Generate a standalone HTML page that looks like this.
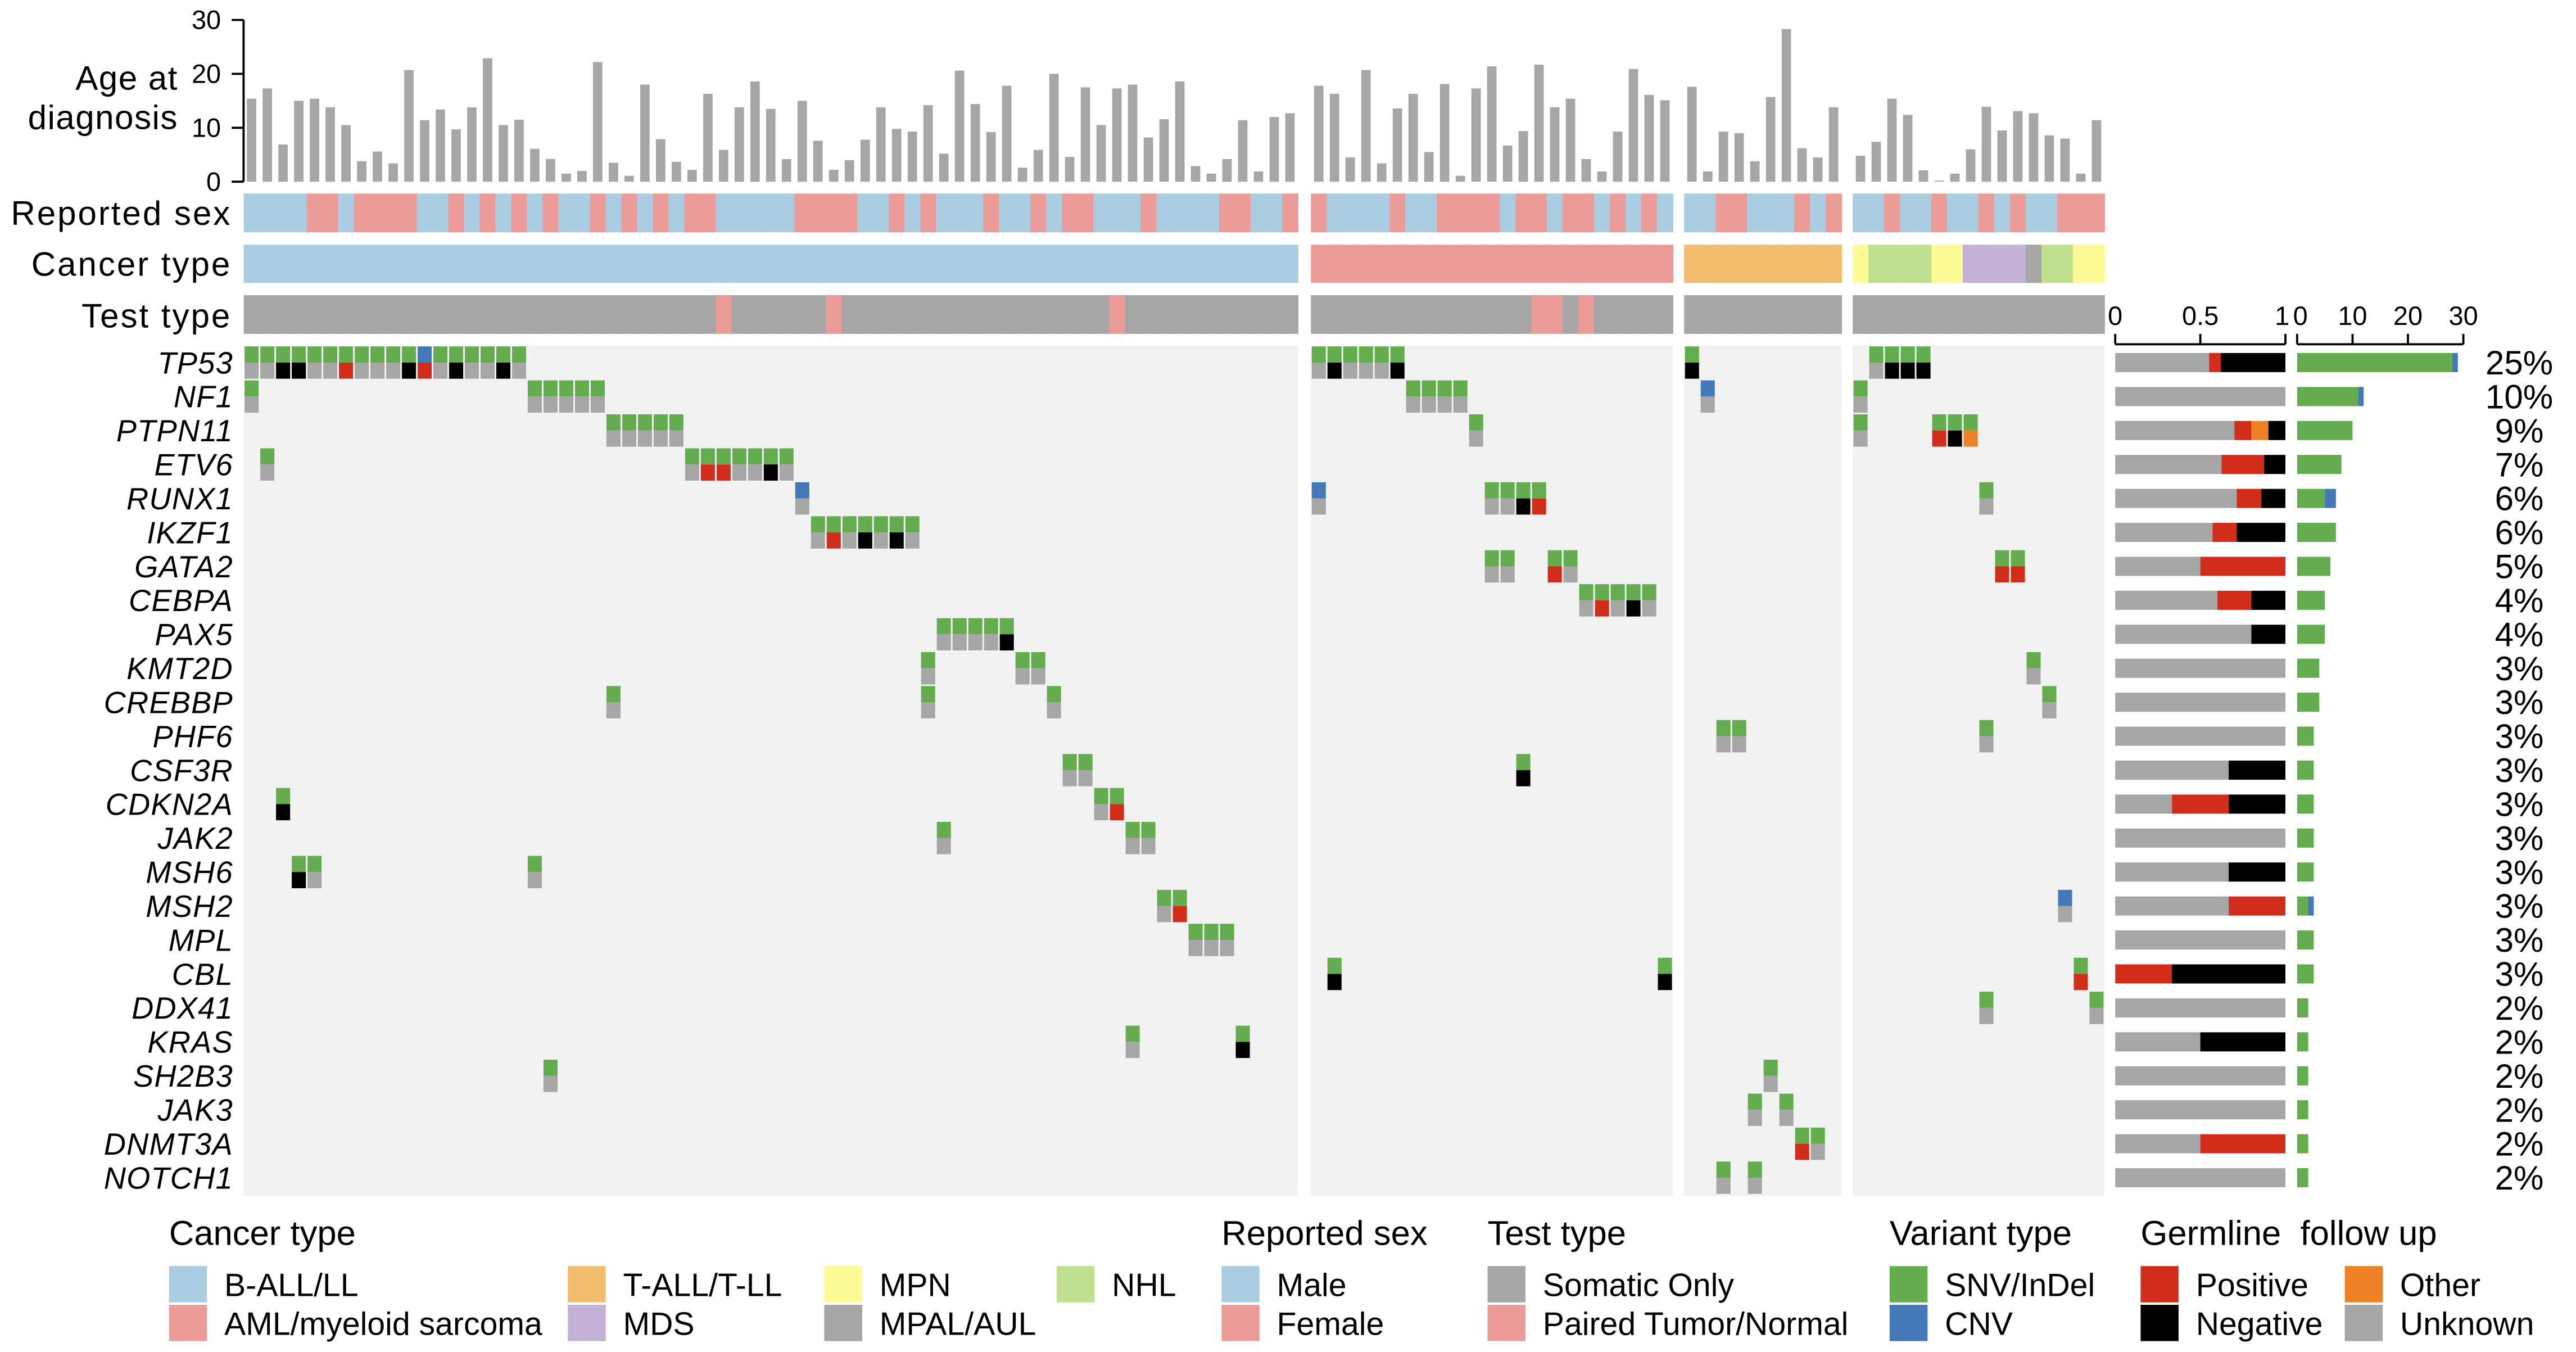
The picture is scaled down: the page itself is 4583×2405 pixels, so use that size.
<!DOCTYPE html>
<html><head><meta charset="utf-8"><title>Oncoprint</title>
<style>html,body{margin:0;padding:0;background:#fff;}svg{display:block;font-family:"Liberation Sans",Arial,sans-serif;}</style>
</head><body>
<svg id="chart" width="4583" height="2405" viewBox="0 0 1562 820" preserveAspectRatio="none" xmlns="http://www.w3.org/2000/svg"></svg>
<script>
// ---------- DATA ----------
const groupSizes = [67, 23, 10, 16];
const ages = [
 15.4,17.3,6.9,15,15.4,13.8,10.5,3.8,5.6,3.4,20.7,11.4,13.4,9.7,13.8,22.9,10.5,11.5,6.1,4.2,1.5,2,22.2,3.5,1.1,18,7.9,3.7,2.2,16.3,5.9,13.8,18.6,13.5,4.2,15,7.6,2.2,4,7.8,13.8,9.8,9.3,14.2,5.2,20.6,14.4,9.2,17.8,2.6,5.9,20,4.6,17.5,10.5,17.3,18,8.2,11.6,18.6,2.9,1.5,4.2,11.4,1.9,12,12.7,
 17.8,16.3,4.5,20.7,3.4,13.6,16.3,5.5,18.1,1.1,17.3,21.4,6.7,9.4,21.7,13.8,15.4,4.2,1.9,9.3,20.9,16.1,15.1,
 17.6,1.9,9.3,9.0,3.8,15.7,28.3,6.2,4.5,13.8,
 4.8,7.4,15.4,12.4,2.1,0.2,1.5,6.0,13.9,9.5,13.1,12.7,8.6,8.0,1.5,11.4
];
const sexes = [
 'M','M','M','M','F','F','M','F','F','F','F','M','M','F','M','F','M','F','M','F','M','M','F','M','F','M','F','M','F','F','M','M','M','M','M','F','F','F','F','M','M','F','M','F','M','M','M','F','M','M','F','M','F','F','M','M','M','F','M','M','M','M','F','F','M','M','F',
 'F','M','M','M','M','F','M','M','F','F','F','F','M','F','F','M','F','F','M','F','M','F','M',
 'M','M','F','F','M','M','M','F','M','F',
 'M','M','F','M','M','F','M','M','F','M','F','M','M','F','F','F'
];
const cancerGroups = ['B-ALL/LL','AML/myeloid sarcoma','T-ALL/T-LL'];
const cancerGroup4 = ['MPN','NHL','NHL','NHL','NHL','MPN','MPN','MDS','MDS','MDS','MDS','MPAL/AUL','NHL','NHL','MPN','MPN'];
const pairedSamples = [[1,31],[1,38],[1,56],[2,15],[2,16],[2,18]]; // [group, cell]
const genes = ['TP53','NF1','PTPN11','ETV6','RUNX1','IKZF1','GATA2','CEBPA','PAX5','KMT2D','CREBBP','PHF6','CSF3R','CDKN2A','JAK2','MSH6','MSH2','MPL','CBL','DDX41','KRAS','SH2B3','JAK3','DNMT3A','NOTCH1'];
// [gene, group, cell, variant(S=SNV/InDel,C=CNV), germline(U,P,N,O)]
const mutations = [
 ['TP53',1,1,'S','U'],['TP53',1,2,'S','U'],['TP53',1,3,'S','N'],['TP53',1,4,'S','N'],['TP53',1,5,'S','U'],['TP53',1,6,'S','U'],['TP53',1,7,'S','P'],['TP53',1,8,'S','U'],['TP53',1,9,'S','U'],['TP53',1,10,'S','U'],['TP53',1,11,'S','N'],['TP53',1,12,'C','P'],['TP53',1,13,'S','U'],['TP53',1,14,'S','N'],['TP53',1,15,'S','U'],['TP53',1,16,'S','U'],['TP53',1,17,'S','N'],['TP53',1,18,'S','U'],
 ['TP53',2,1,'S','U'],['TP53',2,2,'S','N'],['TP53',2,3,'S','U'],['TP53',2,4,'S','U'],['TP53',2,5,'S','U'],['TP53',2,6,'S','N'],
 ['TP53',3,1,'S','N'],
 ['TP53',4,2,'S','U'],['TP53',4,3,'S','N'],['TP53',4,4,'S','N'],['TP53',4,5,'S','N'],
 ['NF1',1,1,'S','U'],['NF1',1,19,'S','U'],['NF1',1,20,'S','U'],['NF1',1,21,'S','U'],['NF1',1,22,'S','U'],['NF1',1,23,'S','U'],
 ['NF1',2,7,'S','U'],['NF1',2,8,'S','U'],['NF1',2,9,'S','U'],['NF1',2,10,'S','U'],['NF1',3,2,'C','U'],['NF1',4,1,'S','U'],
 ['PTPN11',1,24,'S','U'],['PTPN11',1,25,'S','U'],['PTPN11',1,26,'S','U'],['PTPN11',1,27,'S','U'],['PTPN11',1,28,'S','U'],['PTPN11',2,11,'S','U'],
 ['PTPN11',4,1,'S','U'],['PTPN11',4,6,'S','P'],['PTPN11',4,7,'S','N'],['PTPN11',4,8,'S','O'],
 ['ETV6',1,2,'S','U'],['ETV6',1,29,'S','U'],['ETV6',1,30,'S','P'],['ETV6',1,31,'S','P'],['ETV6',1,32,'S','U'],['ETV6',1,33,'S','U'],['ETV6',1,34,'S','N'],['ETV6',1,35,'S','U'],
 ['RUNX1',1,36,'C','U'],['RUNX1',2,1,'C','U'],['RUNX1',2,12,'S','U'],['RUNX1',2,13,'S','U'],['RUNX1',2,14,'S','N'],['RUNX1',2,15,'S','P'],['RUNX1',4,9,'S','U'],
 ['IKZF1',1,37,'S','U'],['IKZF1',1,38,'S','P'],['IKZF1',1,39,'S','U'],['IKZF1',1,40,'S','N'],['IKZF1',1,41,'S','U'],['IKZF1',1,42,'S','N'],['IKZF1',1,43,'S','U'],
 ['GATA2',2,12,'S','U'],['GATA2',2,13,'S','U'],['GATA2',2,16,'S','P'],['GATA2',2,17,'S','U'],['GATA2',4,10,'S','P'],['GATA2',4,11,'S','P'],
 ['CEBPA',2,18,'S','U'],['CEBPA',2,19,'S','P'],['CEBPA',2,20,'S','U'],['CEBPA',2,21,'S','N'],['CEBPA',2,22,'S','U'],
 ['PAX5',1,45,'S','U'],['PAX5',1,46,'S','U'],['PAX5',1,47,'S','U'],['PAX5',1,48,'S','U'],['PAX5',1,49,'S','N'],
 ['KMT2D',1,44,'S','U'],['KMT2D',1,50,'S','U'],['KMT2D',1,51,'S','U'],['KMT2D',4,12,'S','U'],
 ['CREBBP',1,24,'S','U'],['CREBBP',1,44,'S','U'],['CREBBP',1,52,'S','U'],['CREBBP',4,13,'S','U'],
 ['PHF6',3,3,'S','U'],['PHF6',3,4,'S','U'],['PHF6',4,9,'S','U'],
 ['CSF3R',1,53,'S','U'],['CSF3R',1,54,'S','U'],['CSF3R',2,14,'S','N'],
 ['CDKN2A',1,3,'S','N'],['CDKN2A',1,55,'S','U'],['CDKN2A',1,56,'S','P'],
 ['JAK2',1,45,'S','U'],['JAK2',1,57,'S','U'],['JAK2',1,58,'S','U'],
 ['MSH6',1,4,'S','N'],['MSH6',1,5,'S','U'],['MSH6',1,19,'S','U'],
 ['MSH2',1,59,'S','U'],['MSH2',1,60,'S','P'],['MSH2',4,14,'C','U'],
 ['MPL',1,61,'S','U'],['MPL',1,62,'S','U'],['MPL',1,63,'S','U'],
 ['CBL',2,2,'S','N'],['CBL',2,23,'S','N'],['CBL',4,15,'S','P'],
 ['DDX41',4,9,'S','U'],['DDX41',4,16,'S','U'],
 ['KRAS',1,57,'S','U'],['KRAS',1,64,'S','N'],
 ['SH2B3',1,20,'S','U'],['SH2B3',3,6,'S','U'],
 ['JAK3',3,5,'S','U'],['JAK3',3,7,'S','U'],
 ['DNMT3A',3,8,'S','P'],['DNMT3A',3,9,'S','U'],
 ['NOTCH1',3,3,'S','U'],['NOTCH1',3,5,'S','U']
];
const ageTicks = [0,10,20,30];
const germTicks = [0,0.5,1];
const germTickLabels = ['0','0.5','1'];
const freqTicks = [0,10,20,30];

// ---------- STYLE / LAYOUT ----------
const C = {male:'#abcde2', female:'#eb9c99', 'B-ALL/LL':'#abcde2','AML/myeloid sarcoma':'#eb9c99','T-ALL/T-LL':'#f2bd6c','MPN':'#fdfb95','MDS':'#c3b1d6','MPAL/AUL':'#a6a6a6','NHL':'#bfe08f',
  somatic:'#a6a6a6', paired:'#eb9c99', S:'#63ad4e', C:'#4379b7', P:'#d12d1a', N:'#000000', O:'#ec8224', U:'#a6a6a6', bg:'#f2f2f2'};
const groupStart = [147.8, 794.9, 1021.2, 1123.4];
const colW = 9.54;
const rowTop0 = 209.6, rowH = 20.6;
const ageY0 = 110.2, ageY30 = 12.1;
const svg = document.getElementById('chart');
const NS = 'http://www.w3.org/2000/svg';
function mk(tag, attrs, parent){const e=document.createElementNS(NS,tag);for(const k in attrs)e.setAttribute(k,attrs[k]);(parent||svg).appendChild(e);return e;}
function txt(s, attrs, parent){const e=mk('text',attrs,parent);e.textContent=s;return e;}
const nTotal = groupSizes.reduce((a,b)=>a+b,0);
const sampleGroup=[], sampleCell=[];
groupSizes.forEach((n,g)=>{for(let i=0;i<n;i++){sampleGroup.push(g);sampleCell.push(i);}});
function xCol(s){return groupStart[sampleGroup[s]] + sampleCell[s]*colW;}
function xGC(g,c){return groupStart[g-1] + (c-1)*colW;}
function yAge(v){return ageY0 - (ageY0-ageY30)*v/30;}
function yRow(i){return rowTop0 + i*rowH;}
const germX0 = 1282.6, germW = 103.2;
function xGerm(f){return germX0 + germW*f;}
const freqX0 = 1392.9, freqPer = 3.36;
function xFreq(n){return freqX0 + freqPer*n;}

// ---------- AGE CHART ----------
const ageG = mk('g',{});


ages.forEach((v,s)=>{
  const r = mk('rect',{x:xCol(s)+1.9, y:yAge(v), width:5.7, height:ageY0-yAge(v), fill:'#a6a6a6'}, ageG);
  
  
});
const ageAxis = mk('g',{});


mk('line',{x1:147.7,x2:147.7,y1:yAge(30),y2:yAge(0),stroke:'#000','stroke-width':1.3},ageAxis);
ageTicks.forEach(t=>{
  mk('line',{x1:140.5,x2:147.7,y1:yAge(t),y2:yAge(t),stroke:'#000','stroke-width':1.3},ageAxis);
  const tl = txt(String(t),{x:134,y:yAge(t)+5.5,'text-anchor':'end','font-size':16},ageAxis);
  
  
});
const at1 = txt('Age at',{x:108,y:54.4,'text-anchor':'end','font-size':20.5,'letter-spacing':0.5});


const at2 = txt('diagnosis',{x:108,y:78.2,'text-anchor':'end','font-size':20.5,'letter-spacing':0.5});



// ---------- ANNOTATION ROWS ----------
[['Reported sex',136.4],['Cancer type',167.3],['Test type',198.6]].forEach(([s,y])=>{
  const t = txt(s,{x:140.5,y:y,'text-anchor':'end','font-size':20.5,'letter-spacing':1});
  
  
});
for(let s=0;s<nTotal;s++){
  const x = xCol(s);
  const r1 = mk('rect',{x:x,y:117.4,width:colW+0.3,height:23.5,fill:sexes[s]==='F'?C.female:C.male});
  
  
  const g = sampleGroup[s];
  const ct = g<3 ? cancerGroups[g] : cancerGroup4[sampleCell[s]];
  const r2 = mk('rect',{x:x,y:148.4,width:colW+0.3,height:23.2,fill:C[ct]});
  
  
  const paired = pairedSamples.some(p=>p[0]-1===g && p[1]-1===sampleCell[s]);
  const r3 = mk('rect',{x:x,y:179,width:colW+0.3,height:23.5,fill:paired?C.paired:C.somatic});
  
  
}

// ---------- MUTATION MATRIX ----------
groupSizes.forEach((n,g)=>{
  const r = mk('rect',{x:groupStart[g],y:rowTop0,width:n*colW,height:genes.length*rowH+0.8,fill:C.bg});
  
  
});
genes.forEach((gname,i)=>{
  const t = txt(gname,{x:141.4,y:yRow(i)+rowH/2+6.6,'text-anchor':'end','font-size':18.5,'font-style':'italic','letter-spacing':0.4});
  
  
});
mutations.forEach(m=>{
  const gi = genes.indexOf(m[0]);
  const x = xGC(m[1],m[2]) + 0.5, y = yRow(gi) + 0.5, w = colW-1, h = rowH-1;
  const cell = mk('g',{});
  
  
  mk('rect',{x:x,y:y,width:w,height:h/2,fill:C[m[3]]},cell);
  mk('rect',{x:x,y:y+h/2,width:w,height:h/2,fill:C[m[4]]},cell);
});

// ---------- RIGHT PANELS ----------
const germOrder = ['U','P','O','N'];
const gAx = mk('g',{});


mk('line',{x1:xGerm(0),x2:xGerm(1),y1:208.8,y2:208.8,stroke:'#000','stroke-width':1.3},gAx);
germTicks.forEach((t,i)=>{
  mk('line',{x1:xGerm(t),x2:xGerm(t),y1:202.5,y2:208.8,stroke:'#000','stroke-width':1.3},gAx);
  txt(germTickLabels[i],{x:xGerm(t)+(i===2?-2:0),y:197,'text-anchor':'middle','font-size':16},gAx);
});
const fAx = mk('g',{});


mk('line',{x1:xFreq(0),x2:xFreq(30),y1:208.8,y2:208.8,stroke:'#000','stroke-width':1.3},fAx);
freqTicks.forEach(t=>{
  mk('line',{x1:xFreq(t),x2:xFreq(t),y1:202.5,y2:208.8,stroke:'#000','stroke-width':1.3},fAx);
  txt(String(t),{x:xFreq(t)+(t===0?2:0),y:197,'text-anchor':'middle','font-size':16},fAx);
});
genes.forEach((gname,i)=>{
  const ms = mutations.filter(m=>m[0]===gname);
  const n = ms.length;
  const yc = yRow(i)+rowH/2, bh = 11.6;
  let acc = 0;
  germOrder.forEach(k=>{
    const c = ms.filter(m=>m[4]===k).length;
    if(!c) return;
    const r = mk('rect',{x:xGerm(acc/n),y:yc-bh/2,width:xGerm((acc+c)/n)-xGerm(acc/n),height:bh,fill:C[k]});
    
    
    acc += c;
  });
  const ns = ms.filter(m=>m[3]==='S').length, nc = n-ns;
  const fr1 = mk('rect',{x:xFreq(0),y:yc-bh/2,width:xFreq(ns)-xFreq(0),height:bh,fill:C.S});
  
  
  if(nc){
    const fr2 = mk('rect',{x:xFreq(ns),y:yc-bh/2,width:xFreq(n)-xFreq(ns),height:bh,fill:C.C});
    
    
  }
  const pt = txt(Math.round(n/nTotal*100)+'%',{x:1527.6,y:yc+7.2,'text-anchor':'middle','font-size':20.5});
  
  
});

// ---------- LEGEND ----------
const legTitles = [['Cancer type',102.5],['Reported sex',740.7],['Test type',902],['Variant type',1145.8],['Germline  follow up',1298]];
legTitles.forEach(([s,x])=>{
  const t = txt(s,{x:x,y:755,'font-size':21,'xml:space':'preserve'});
  t.style.whiteSpace='pre';
  
  
});
const legItems = [
 ['B-ALL/LL',102.5,0],['AML/myeloid sarcoma',102.5,1],['T-ALL/T-LL',344.3,0],['MDS',344.3,1],['MPN',499.8,0],['MPAL/AUL',499.8,1],['NHL',640.7,0],
 ['Male',740.7,0,'male'],['Female',740.7,1,'female'],['Somatic Only',902,0,'somatic'],['Paired Tumor/Normal',902,1,'paired'],
 ['SNV/InDel',1145.8,0,'S'],['CNV',1145.8,1,'C'],['Positive',1298,0,'P'],['Negative',1298,1,'N'],['Other',1421.8,0,'O'],['Unknown',1421.8,1,'U']
];
legItems.forEach(it=>{
  const y = it[2]===0 ? 767.9 : 791.4;
  const g = mk('g',{});
  
  
  mk('rect',{x:it[1],y:y,width:23,height:22,fill:C[it[3]||it[0]]},g);
  txt(it[0],{x:it[1]+33.5,y:y+18.2,'font-size':19.5},g);
});
</script>
</body></html>
